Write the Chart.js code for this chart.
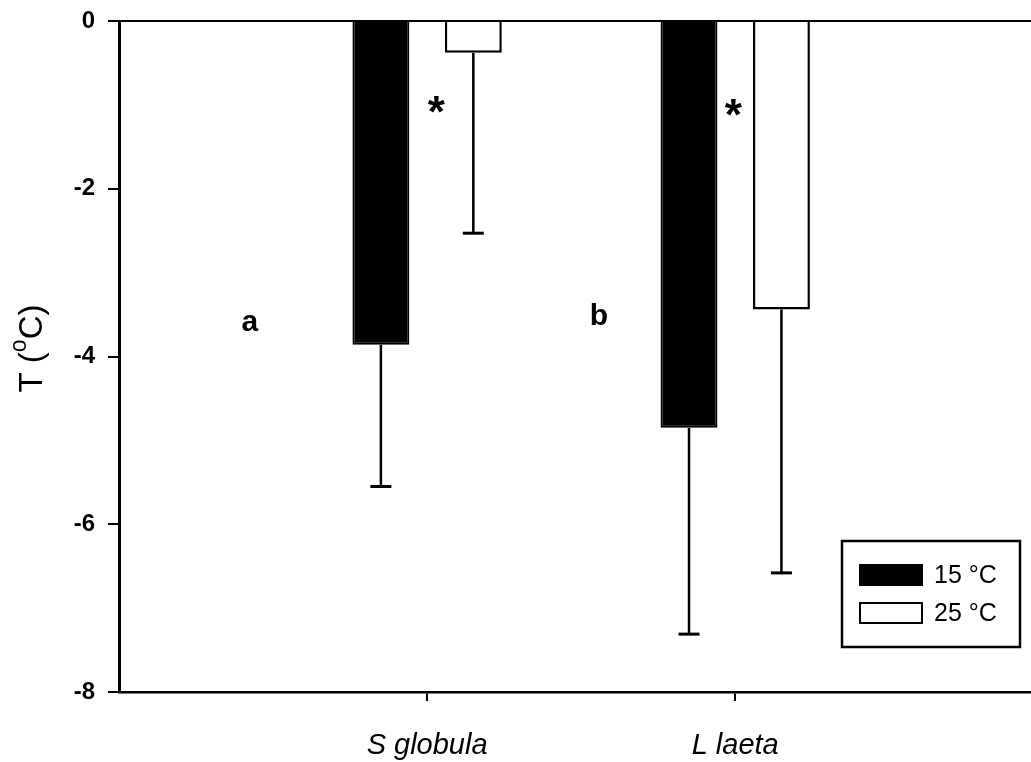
<!DOCTYPE html>
<html>
<head>
<meta charset="utf-8">
<script src="https://cdn.jsdelivr.net/npm/chart.js@4.4.1/dist/chart.umd.min.js"></script>
<style>
  html, body { margin: 0; padding: 0; background: #fff; overflow: hidden; }
  #wrap { width: 1031px; height: 762px; position: relative; }
</style>
</head>
<body>
<div id="wrap"><canvas id="chart"></canvas></div>
<script>
// Species on the x axis
const categories = ['S globula', 'L laeta'];
// Mean temperature change (°C) at each acclimation temperature
const series15 = [-3.86, -4.85];
const series25 = [-0.38, -3.44];
// Standard deviations, drawn downward from each bar end
const err15 = [1.69, 2.46];
const err25 = [2.15, 3.14];
// Y axis tick values
const yTicks = [-8, -6, -4, -2, 0];
const seriesLabels = ['15 °C', '25 °C'];
// Panel letters and significance marks, in data coordinates
const letterText = ['a', 'b'];
const letterX = [0.425, 1.558];
const letterY = [-3.6, -3.53];
const starText = ['*', '*'];
const starX = [1.03, 1.994];
const starY = [-1.0, -1.03];

const toPoints = vals => vals.map((v, i) => ({ x: i + 1, y: v }));
const errorSets = [err15, err25];
const valueSets = [series15, series25];
const FAMILY = '"Liberation Sans", Arial, sans-serif';

// Downward error bars with a short cap
const errorBars = {
  id: 'errorBars',
  afterDatasetsDraw(chart) {
    const ctx = chart.ctx;
    const y = chart.scales.y;
    ctx.save();
    ctx.strokeStyle = '#000';
    chart.data.datasets.forEach((ds, di) => {
      const meta = chart.getDatasetMeta(di);
      meta.data.forEach((bar, i) => {
        const v = valueSets[di][i];
        const e = errorSets[di][i];
        const y0 = y.getPixelForValue(v);
        const y1 = y.getPixelForValue(v - e);
        ctx.lineWidth = 2.5;
        ctx.beginPath();
        ctx.moveTo(bar.x, y0);
        ctx.lineTo(bar.x, y1);
        ctx.stroke();
        ctx.lineWidth = 3;
        ctx.beginPath();
        ctx.moveTo(bar.x - 10.5, y1);
        ctx.lineTo(bar.x + 10.5, y1);
        ctx.stroke();
      });
    });
    ctx.restore();
  }
};

// Letters and asterisks placed through the scales
const marks = {
  id: 'marks',
  afterDatasetsDraw(chart) {
    const ctx = chart.ctx;
    const xs = chart.scales.x, ys = chart.scales.y;
    ctx.save();
    ctx.fillStyle = '#000';
    ctx.textAlign = 'center';
    ctx.textBaseline = 'middle';
    ctx.font = 'bold 30px ' + FAMILY;
    letterText.forEach((t, i) => {
      ctx.fillText(t, xs.getPixelForValue(letterX[i]), ys.getPixelForValue(letterY[i]));
    });
    ctx.font = 'bold 44px ' + FAMILY;
    starText.forEach((t, i) => {
      ctx.fillText(t, xs.getPixelForValue(starX[i]), ys.getPixelForValue(starY[i]) + 10);
    });
    ctx.restore();
  }
};

// Rotated y-axis title with a raised "o"
const yTitle = {
  id: 'yTitle',
  afterDraw(chart) {
    const ctx = chart.ctx;
    const area = chart.chartArea;
    const cy = (area.top + area.bottom) / 2 - 8;
    const big = '33px ' + FAMILY;
    const small = '23px ' + FAMILY;
    const parts = [['T (', big, 0], ['o', small, -13], ['C)', big, 0]];
    ctx.save();
    ctx.translate(33, cy);
    ctx.rotate(-Math.PI / 2);
    ctx.fillStyle = '#000';
    ctx.textBaseline = 'middle';
    let total = 0;
    parts.forEach(p => { ctx.font = p[1]; total += ctx.measureText(p[0]).width; });
    let x = -total / 2;
    parts.forEach(p => {
      ctx.font = p[1];
      ctx.textAlign = 'left';
      ctx.fillText(p[0], x, p[2]);
      x += ctx.measureText(p[0]).width;
    });
    ctx.restore();
  }
};

// Boxed legend inside the lower right of the plot
const boxLegend = {
  id: 'boxLegend',
  afterDraw(chart) {
    const ctx = chart.ctx;
    const area = chart.chartArea;
    const right = area.right - 11, bottom = area.bottom - 45;
    const left = right - 178, top = bottom - 106;
    ctx.save();
    ctx.fillStyle = '#fff';
    ctx.fillRect(left, top, right - left, bottom - top);
    ctx.strokeStyle = '#000';
    ctx.lineWidth = 2.5;
    ctx.strokeRect(left, top, right - left, bottom - top);
    ctx.font = '25px ' + FAMILY;
    ctx.textBaseline = 'middle';
    ctx.textAlign = 'left';
    chart.data.datasets.forEach((ds, i) => {
      const cy = top + 34 + i * 38;
      ctx.fillStyle = ds.backgroundColor;
      ctx.fillRect(left + 18, cy - 10, 62, 20);
      ctx.lineWidth = 2;
      ctx.strokeRect(left + 18, cy - 10, 62, 20);
      ctx.fillStyle = '#000';
      ctx.fillText(ds.label, left + 92, cy + 1);
    });
    ctx.restore();
  }
};

new Chart(document.getElementById('chart'), {
  type: 'bar',
  data: {
    datasets: [
      { label: seriesLabels[0], data: toPoints(series15), backgroundColor: '#000', borderColor: '#000', borderWidth: 2 },
      { label: seriesLabels[1], data: toPoints(series25), backgroundColor: '#fff', borderColor: '#000', borderWidth: 2.5 }
    ]
  },
  plugins: [errorBars, marks, yTitle, boxLegend],
  options: {
    responsive: true,
    maintainAspectRatio: false,
    animation: false,
    categoryPercentage: 0.6,
    barPercentage: 0.616,
    layout: { padding: { top: 21, right: 0, bottom: 0, left: 0 } },
    plugins: { legend: { display: false }, tooltip: { enabled: false } },
    scales: {
      x: {
        type: 'linear',
        min: 0,
        max: 2.96,
        offset: false,
        afterBuildTicks: s => { s.ticks = categories.map((c, i) => ({ value: i + 1 })); },
        afterFit: s => { s.height = 70; s.paddingLeft = 0; s.paddingRight = 0; },
        ticks: {
          callback: (v, i) => categories[i],
          font: { family: FAMILY, size: 29, style: 'italic' },
          color: '#000',
          padding: 28,
          maxRotation: 0,
          autoSkip: false
        },
        grid: { drawOnChartArea: false, offset: false, tickLength: 9, tickColor: '#000', lineWidth: 2 },
        border: { display: true, color: '#000', width: 2.5 }
      },
      y: {
        min: -8,
        max: 0,
        afterBuildTicks: s => { s.ticks = yTicks.map(v => ({ value: v })); },
        afterFit: s => { s.width = 119; s.paddingTop = 0; s.paddingBottom = 0; },
        ticks: {
          font: { family: FAMILY, size: 24, weight: 'bold' },
          color: '#000',
          padding: 13
        },
        grid: {
          color: c => (c.tick && c.tick.value === 0 ? '#000' : 'rgba(0,0,0,0)'),
          lineWidth: 2,
          tickLength: 11,
          tickColor: '#000',
          drawOnChartArea: true
        },
        border: { display: true, color: '#000', width: 3 }
      }
    }
  }
});
</script>
</body>
</html>
